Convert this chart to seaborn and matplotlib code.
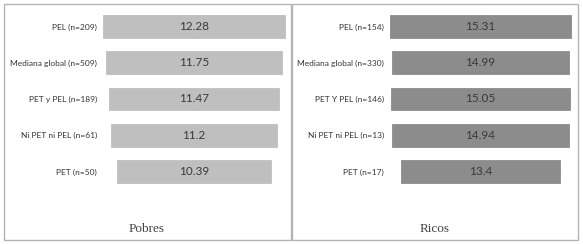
import matplotlib
matplotlib.use("Agg")
import matplotlib.pyplot as plt
import numpy as np
import pandas as pd
import seaborn as sns
from matplotlib.patches import Rectangle

# Data
pobres_labels = ["PEL (n=209)", "Mediana global (n=509)", "PET y PEL (n=189)",
                 "Ni PET ni PEL (n=61)", "PET (n=50)"]
pobres_values = [12.28, 11.75, 11.47, 11.2, 10.39]
ricos_labels = ["PEL (n=154)", "Mediana global (n=330)", "PET Y PEL (n=146)",
                "Ni PET ni PEL (n=13)", "PET (n=17)"]
ricos_values = [15.31, 14.99, 15.05, 14.94, 13.4]

sns.set_theme(style="white")
plt.rcParams["font.family"] = ["Lato", "DejaVu Sans"]

W, H = 583, 244
fig = plt.figure(figsize=(W / 100, H / 100), dpi=100)


def px_axes(x0, x1, y0, y1):
    return fig.add_axes([x0 / W, 1 - y1 / H, (x1 - x0) / W, (y1 - y0) / H])


def funnel(ax, labels, values, color, half):
    df = pd.DataFrame({"label": labels, "value": values})
    df["half"] = df["value"] / 2
    df["neg"] = -df["value"] / 2
    # two mirrored halves give a bar centred on zero
    for col in ["half", "neg"]:
        sns.barplot(data=df, x=col, y="label", color=color, width=0.63,
                    saturation=1, edgecolor=color, linewidth=0.6, ax=ax)
    for i, v in enumerate(values):
        ax.text(0, i, f"{v:g}", ha="center", va="center", fontsize=8.5,
                color="#3a3a3a")
    ax.set_xlim(-half, half)
    ax.set_ylim(4.5, -0.5)
    ax.set_xlabel("")
    ax.set_ylabel("")
    ax.set_xticks([])
    ax.tick_params(axis="y", length=0, pad=2, labelsize=6, labelcolor="#333333")
    sns.despine(ax=ax, left=True, bottom=True)


ax1 = px_axes(100, 288, 8.4, 189.6)
funnel(ax1, pobres_labels, pobres_values, "#bfbfbf", 6.31)
ax2 = px_axes(387, 574, 8.4, 189.6)
funnel(ax2, ricos_labels, ricos_values, "#8c8c8c", 7.88)

# panel frames
for x0, x1 in [(4, 291), (292, 578)]:
    fig.patches.append(Rectangle((x0 / W, 1 - 240 / H), (x1 - x0) / W, 236 / H,
                                 transform=fig.transFigure, fill=False,
                                 edgecolor="#b4b4b4", linewidth=1))

for x, t in [(147, "Pobres"), (435, "Ricos")]:
    fig.text(x / W, 1 - 229 / H, t, ha="center", va="center", fontsize=9.5,
             family=["Liberation Serif", "DejaVu Serif"], color="#444444")

fig.savefig("out.png", dpi=100, facecolor="white")
